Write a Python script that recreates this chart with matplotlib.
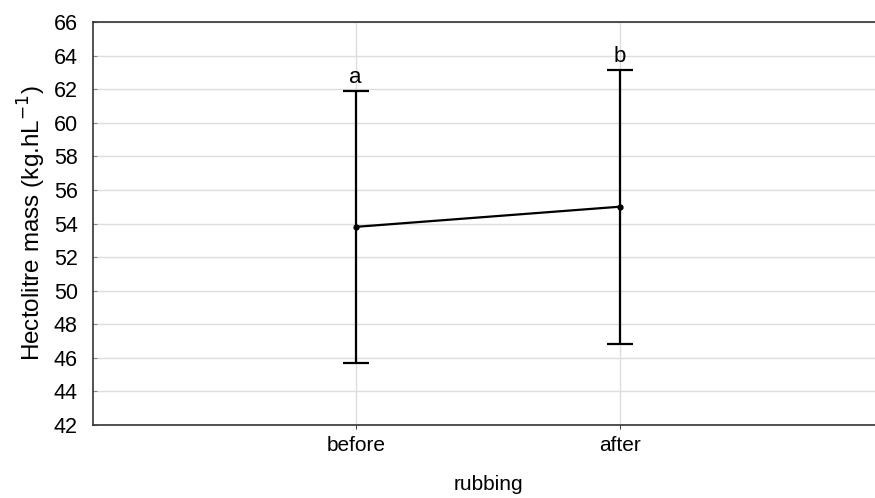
import matplotlib.pyplot as plt
import numpy as np

plt.rcParams['font.family'] = ['Liberation Sans', 'DejaVu Sans']

groups = ["before", "after"]
means = [53.8, 55.0]
errs = [8.12, 8.15]
letters = ["a", "b"]

fig = plt.figure(figsize=(8.75, 4.98), dpi=100)
ax = fig.add_axes([93 / 875, 1 - 425 / 498, 1 - 93 / 875 + 0.01, 403 / 498])

x = np.arange(len(groups))
ax.errorbar(x, means, yerr=errs, color="black", lw=1.6, capsize=9.5,
            capthick=1.6, marker="o", ms=3.5, zorder=3)
for xi, m, e, l in zip(x, means, errs, letters):
    ax.text(xi, m + e + 0.15, l, ha="center", va="bottom", fontsize=16)

ax.set_xlim(-0.995, 2.0)
ax.set_ylim(42, 66)
ax.set_yticks(np.arange(42, 67, 2))
ax.set_xticks(x)
ax.set_xticklabels(groups, fontsize=15)
ax.tick_params(axis="y", labelsize=15.5, length=3, direction="in", pad=11,
               color="#888888")
ax.tick_params(axis="x", length=3, pad=5, color="#444444")
ax.grid(True, color="#dddddd", lw=1)
ax.set_axisbelow(True)
ax.spines["right"].set_visible(False)
for s in ["left", "top", "bottom"]:
    ax.spines[s].set_color("#333333")
    ax.spines[s].set_linewidth(1.2)

ax.set_ylabel("Hectolitre mass (kg.hL$^{-1}$)", fontsize=17.5, labelpad=4)
ax.set_xlabel("rubbing", fontsize=15, labelpad=14)

fig.savefig("out.png", dpi=100)
